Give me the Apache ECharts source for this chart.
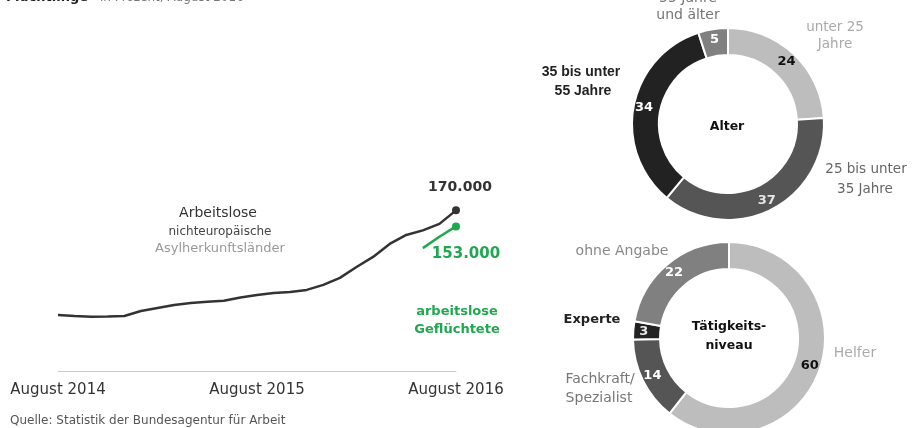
<!DOCTYPE html>
<html lang="de">
<head>
<meta charset="utf-8">
<script src="https://cdn.jsdelivr.net/npm/echarts@6/dist/echarts.min.js"></script>
<style>
  html, body { margin: 0; padding: 0; background: #fff; }
  #chart { width: 912px; height: 428px; }
</style>
</head>
<body>
<div id="chart"></div>
<script>
// Monthly categories, August 2014 to August 2016
const months = [
  'August 2014', 'September 2014', 'Oktober 2014', 'November 2014', 'Dezember 2014',
  'Januar 2015', 'Februar 2015', 'März 2015', 'April 2015', 'Mai 2015', 'Juni 2015', 'Juli 2015',
  'August 2015', 'September 2015', 'Oktober 2015', 'November 2015', 'Dezember 2015',
  'Januar 2016', 'Februar 2016', 'März 2016', 'April 2016', 'Mai 2016', 'Juni 2016', 'Juli 2016',
  'August 2016'
];

// Arbeitslose aus nichteuropäischen Asylherkunftsländern
const arbeitslose = [
  59300, 58200, 57500, 57700, 58200, 63500, 66700, 69900, 72000, 73300, 74400, 77800,
  80500, 82600, 83700, 85800, 91100, 98500, 110100, 120700, 134500, 144000, 148800, 155700,
  170000
];

// Arbeitslose Geflüchtete (erst ab Juni 2016 erfasst)
const gefluechtete = [
  null, null, null, null, null, null, null, null, null, null, null, null,
  null, null, null, null, null, null, null, null, null, null, 130000, 142000,
  153000
];

// Altersstruktur in Prozent
const alterNamen = ['unter 25 Jahre', '25 bis unter 35 Jahre', '35 bis unter 55 Jahre', '55 Jahre und älter'];
const alterWerte = [24, 37, 34, 5];

// Tätigkeitsniveau in Prozent
const niveauNamen = ['Helfer', 'Fachkraft/Spezialist', 'Experte', 'ohne Angabe'];
const niveauWerte = [60, 14, 3, 22];

const SANS = '"DejaVu Sans", Verdana, sans-serif';
const NARROW = '"Liberation Sans", Arial, sans-serif';
const GREEN = '#1fa84f';
const fmt = v => v.toLocaleString('de-DE');

const alterFarben = ['#bdbdbd', '#555555', '#222222', '#808080'];
const alterLabel = ['#111', '#e6e6e6', '#fff', '#fff'];
const niveauFarben = ['#bdbdbd', '#555555', '#222222', '#808080'];
const niveauLabel = ['#111', '#fff', '#e6e6e6', '#fff'];

function lastPointData(values, labelOpts) {
  return values.map((v, i) => {
    if (i !== values.length - 1) return v;
    return { value: v, symbol: 'circle', symbolSize: 8, label: labelOpts };
  });
}

function pieData(names, values, colors, labelColors) {
  return names.map((n, i) => ({
    name: n,
    value: values[i],
    itemStyle: { color: colors[i] },
    label: { color: labelColors[i] }
  }));
}

const pieBase = {
  type: 'pie',
  radius: [69, 96],
  startAngle: 90,
  clockwise: true,
  silent: true,
  avoidLabelOverlap: false,
  itemStyle: { borderColor: '#fff', borderWidth: 2 },
  label: {
    show: true,
    position: 'inside',
    formatter: '{c}',
    fontFamily: SANS,
    fontSize: 13,
    fontWeight: 'bold'
  },
  labelLine: { show: false },
  emphasis: { disabled: true }
};

function txt(x, y, text, opts) {
  return {
    type: 'text',
    x: x, y: y,
    silent: true,
    style: Object.assign({
      text: text,
      fontFamily: SANS,
      fontSize: 12,
      fill: '#333',
      align: 'center',
      verticalAlign: 'middle'
    }, opts || {})
  };
}

const chart = echarts.init(document.getElementById('chart'), null, { renderer: 'canvas' });

chart.setOption({
  animation: false,
  backgroundColor: '#fff',
  grid: { left: 58, right: 456, top: 182, bottom: 57 },
  xAxis: {
    type: 'category',
    data: months,
    boundaryGap: false,
    axisLine: { show: true, lineStyle: { color: '#cccccc', width: 1 } },
    axisTick: { show: false },
    axisLabel: {
      interval: 11,
      margin: 12,
      color: '#333',
      fontFamily: SANS,
      fontSize: 15
    },
    splitLine: { show: false }
  },
  yAxis: {
    type: 'value',
    min: 0,
    max: 200000,
    show: false
  },
  series: [
    {
      type: 'line',
      data: lastPointData(arbeitslose, {
        show: true,
        position: 'top',
        distance: 12,
        offset: [4, 0],
        formatter: p => fmt(p.value),
        color: '#333',
        fontFamily: SANS,
        fontSize: 14,
        fontWeight: 'bold'
      }),
      symbol: 'none',
      showSymbol: true,
      showAllSymbol: true,
      lineStyle: { color: '#333333', width: 2.5 },
      itemStyle: { color: '#333333' },
      silent: true,
      z: 3
    },
    {
      type: 'line',
      data: lastPointData(gefluechtete, {
        show: true,
        position: 'bottom',
        offset: [10, 4],
        distance: 12,
        formatter: p => fmt(p.value),
        color: GREEN,
        fontFamily: SANS,
        fontSize: 15,
        fontWeight: 'bold'
      }),
      symbol: 'none',
      showSymbol: true,
      showAllSymbol: true,
      connectNulls: false,
      lineStyle: { color: GREEN, width: 2.5 },
      itemStyle: { color: GREEN },
      silent: true,
      z: 4
    },
    Object.assign({}, pieBase, {
      center: [728, 124],
      data: pieData(alterNamen, alterWerte, alterFarben, alterLabel)
    }),
    Object.assign({}, pieBase, {
      center: [729, 338],
      data: pieData(niveauNamen, niveauWerte, niveauFarben, niveauLabel)
    })
  ],
  graphic: [
    // Kopfzeile
    txt(6, -2, 'Flüchtlinge', { align: 'left', fontWeight: 'bold', fontSize: 13, fill: '#222' }),
    txt(100, -2, 'in Prozent, August 2016', { align: 'left', fontSize: 12, fill: '#777' }),

    // Beschriftung der Linien
    txt(218, 213, 'Arbeitslose', { fontSize: 14, fill: '#333' }),
    txt(220, 232, 'nichteuropäische', { fontSize: 12, fill: '#444' }),
    txt(220, 249, 'Asylherkunftsländer', { fontSize: 13, fill: '#999' }),
    txt(457, 312, 'arbeitslose', { fontSize: 13, fontWeight: 'bold', fill: GREEN }),
    txt(457, 330, 'Geflüchtete', { fontSize: 13, fontWeight: 'bold', fill: GREEN }),

    // Quelle
    txt(10, 421, 'Quelle: Statistik der Bundesagentur für Arbeit', { align: 'left', fontSize: 12, fill: '#555' }),

    // Ring Alter
    txt(727, 127, 'Alter', { fontSize: 12.5, fontWeight: 'bold', fill: '#111' }),
    txt(688, -2, '55 Jahre', { fontSize: 14, fill: '#777' }),
    txt(688, 15, 'und älter', { fontSize: 14, fill: '#777' }),
    txt(835, 27, 'unter 25', { fontSize: 13.5, fill: '#aaa' }),
    txt(835, 44, 'Jahre', { fontSize: 13.5, fill: '#aaa' }),
    txt(581, 72, '35 bis unter', { fontFamily: NARROW, fontSize: 14, fontWeight: 'bold', fill: '#222' }),
    txt(583, 91, '55 Jahre', { fontFamily: NARROW, fontSize: 14, fontWeight: 'bold', fill: '#222' }),
    txt(866, 169, '25 bis unter', { fontSize: 13.5, fill: '#666' }),
    txt(865, 189, '35 Jahre', { fontSize: 13.5, fill: '#666' }),

    // Ring Tätigkeitsniveau
    txt(729, 327, 'Tätigkeits-', { fontSize: 12.5, fontWeight: 'bold', fill: '#111' }),
    txt(729, 346, 'niveau', { fontSize: 12.5, fontWeight: 'bold', fill: '#111' }),
    txt(622, 251, 'ohne Angabe', { fontSize: 14, fill: '#888' }),
    txt(592, 320, 'Experte', { fontSize: 13, fontWeight: 'bold', fill: '#222' }),
    txt(855, 353, 'Helfer', { fontSize: 14, fill: '#aaa' }),
    txt(600, 379, 'Fachkraft/', { fontSize: 14, fill: '#777' }),
    txt(599, 398, 'Spezialist', { fontSize: 14, fill: '#777' })
  ]
});
</script>
</body>
</html>
